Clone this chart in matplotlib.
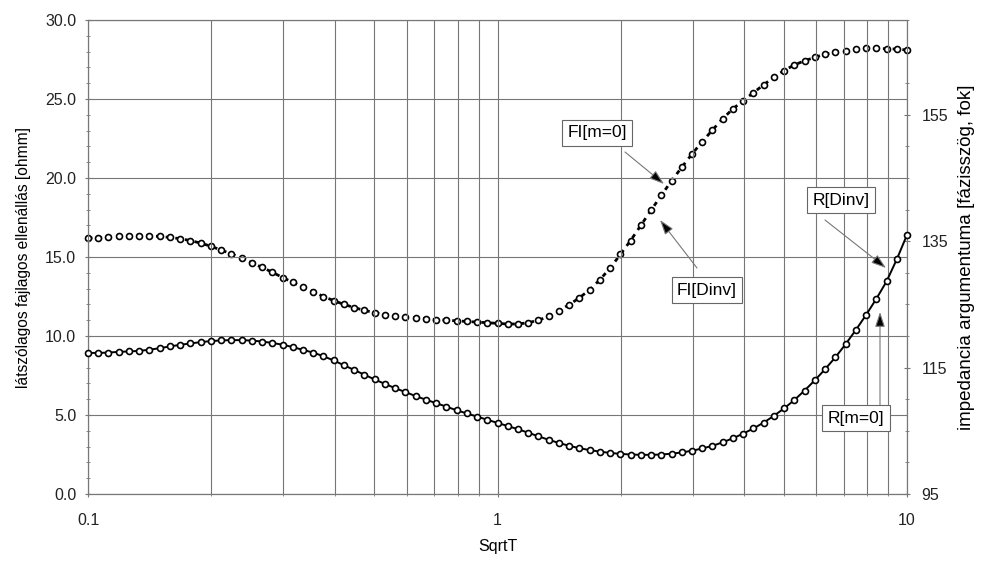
import numpy as np
import matplotlib
matplotlib.use("Agg")
import matplotlib.pyplot as plt
from matplotlib.ticker import MultipleLocator, NullFormatter

plt.rcParams['font.family'] = ['Liberation Sans', 'DejaVu Sans']

# ---- data ----
sqrt_t = np.logspace(-1, 1, 81)

r_m0 = [8.93, 8.93, 8.95, 9.0, 9.02, 9.06, 9.13, 9.23, 9.34, 9.44,
        9.53, 9.61, 9.68, 9.72, 9.74, 9.74, 9.71, 9.65, 9.56, 9.45,
        9.3, 9.12, 8.95, 8.72, 8.45, 8.15, 7.85, 7.55, 7.25, 6.97,
        6.7, 6.45, 6.2, 5.97, 5.75, 5.53, 5.3, 5.1, 4.9, 4.7,
        4.5, 4.3, 4.1, 3.88, 3.65, 3.43, 3.23, 3.05, 2.9, 2.78,
        2.68, 2.6, 2.54, 2.5, 2.48, 2.48, 2.5, 2.55, 2.63, 2.74,
        2.88, 3.05, 3.27, 3.53, 3.82, 4.15, 4.52, 4.95, 5.42, 5.95,
        6.55, 7.2, 7.9, 8.65, 9.48, 10.38, 11.33, 12.35, 13.45, 14.85,
        16.4]
r_dinv = r_m0

fi_m0 = [135.5, 135.5, 135.6, 135.75, 135.8, 135.85, 135.85, 135.75, 135.6, 135.4,
         135.1, 134.7, 134.2, 133.6, 133.0, 132.3, 131.6, 130.85, 130.1, 129.25,
         128.5, 127.75, 127.0, 126.25, 125.6, 125.0, 124.5, 124.05, 123.7, 123.4,
         123.2, 123.0, 122.9, 122.75, 122.6, 122.5, 122.4, 122.3, 122.2, 122.1,
         122.0, 121.9, 121.9, 122.1, 122.5, 123.1, 124.0, 124.95, 126.05, 127.3,
         128.9, 130.75, 132.9, 135.1, 137.5, 139.9, 142.25, 144.55, 146.7, 148.8,
         150.75, 152.6, 154.4, 155.95, 157.25, 158.5, 159.75, 160.95, 162.0, 162.9,
         163.55, 164.1, 164.6, 164.9, 165.15, 165.35, 165.5, 165.5, 165.45, 165.4,
         165.25]
fi_dinv = fi_m0

left_ticks = [0, 5, 10, 15, 20, 25, 30]
right_ticks = [95, 115, 135, 155]
x_ticks = [0.1, 1, 10]
x_ticklabels = ["0.1", "1", "10"]

# ---- figure ----
W, H = 984, 562
fig = plt.figure(figsize=(W / 100, H / 100), dpi=100)
ax = fig.add_axes([88 / W, 68 / H, (907 - 88) / W, (494 - 20) / H])
ax2 = ax.twinx()

grid_c = '#767676'
ax.set_xscale('log')
ax.set_xlim(0.1, 10)
ax.set_ylim(0, 30)
ax.set_xticks(x_ticks)
ax.set_xticklabels(x_ticklabels)
ax.xaxis.set_minor_formatter(NullFormatter())
ax.set_yticks(left_ticks)
ax.set_yticklabels([f"{v:.1f}" for v in left_ticks])
ax.yaxis.set_minor_locator(MultipleLocator(1))
ax.grid(True, which='major', axis='both', color=grid_c, lw=0.8)
ax.grid(True, which='minor', axis='x', color=grid_c, lw=0.8)

ax2.set_ylim(95, 170)
ax2.set_yticks(right_ticks)
ax2.yaxis.set_minor_locator(MultipleLocator(5))

for a in (ax, ax2):
    for s in a.spines.values():
        s.set_color('#777777')
        s.set_linewidth(0.8)
    a.tick_params(which='both', colors='#777777', labelcolor='#222222', labelsize=11.5)
    a.tick_params(which='major', length=5, direction='inout')
    a.tick_params(which='minor', length=3, direction='inout')
ax.tick_params(axis='x', pad=11)
ax.tick_params(axis='y', pad=6)
ax2.tick_params(axis='y', pad=8)

ax.set_zorder(ax2.get_zorder() + 1)
ax.patch.set_visible(False)

# R curves (left axis)
ax.plot(sqrt_t, r_dinv, color='black', lw=1.4, zorder=3, clip_on=False)
ax.plot(sqrt_t, r_m0, ls='none', marker='o', ms=4.3, mfc='white', mec='black',
        mew=1.2, zorder=4, clip_on=False)

# FI curves (right axis)
ax2.plot(sqrt_t, fi_dinv, color='black', lw=2.0, ls=(0, (1.6, 1.9)), zorder=3, clip_on=False)
ax2.plot(sqrt_t, fi_m0, ls='none', marker='o', ms=4.3, mfc='white', mec='black',
         mew=1.2, zorder=4, clip_on=False)

ax.set_xlabel('SqrtT', fontsize=11.5, labelpad=8)
ax.set_ylabel('látszólagos fajlagos ellenállás [ohmm]', fontsize=11.2, labelpad=10)
ax2.set_ylabel('impedancia argumentuma [fázisszög, fok]', fontsize=13.5, labelpad=7)

# annotations (reference pixel coordinates, origin top-left)
def P(x, y):
    return (x, H - y)

box = dict(boxstyle='square,pad=0.3', fc='white', ec='#666666', lw=0.8)
arrow = dict(arrowstyle='-|>,head_length=0.9,head_width=0.3', ec='#777777',
             fc='black', lw=0.8, shrinkA=0, shrinkB=0)

notes = [
    ("FI[m=0]", (597, 133), (625, 152), (664, 184)),
    ("FI[Dinv]", (707, 290), (697, 268), (660, 220)),
    ("R[Dinv]", (841, 200), (825, 220), (886, 268)),
    ("R[m=0]", (856, 418), (880, 405), (880, 312)),
]
for label, tpos, start, tip in notes:
    fig.text(tpos[0] / W, 1 - tpos[1] / H, label, ha='center', va='center',
             fontsize=12.5, bbox=box, zorder=10)
    ax.annotate('', xy=P(*tip), xycoords='figure pixels',
                xytext=P(*start), textcoords='figure pixels',
                arrowprops=arrow, zorder=9)

fig.savefig('out.png', dpi=100)
